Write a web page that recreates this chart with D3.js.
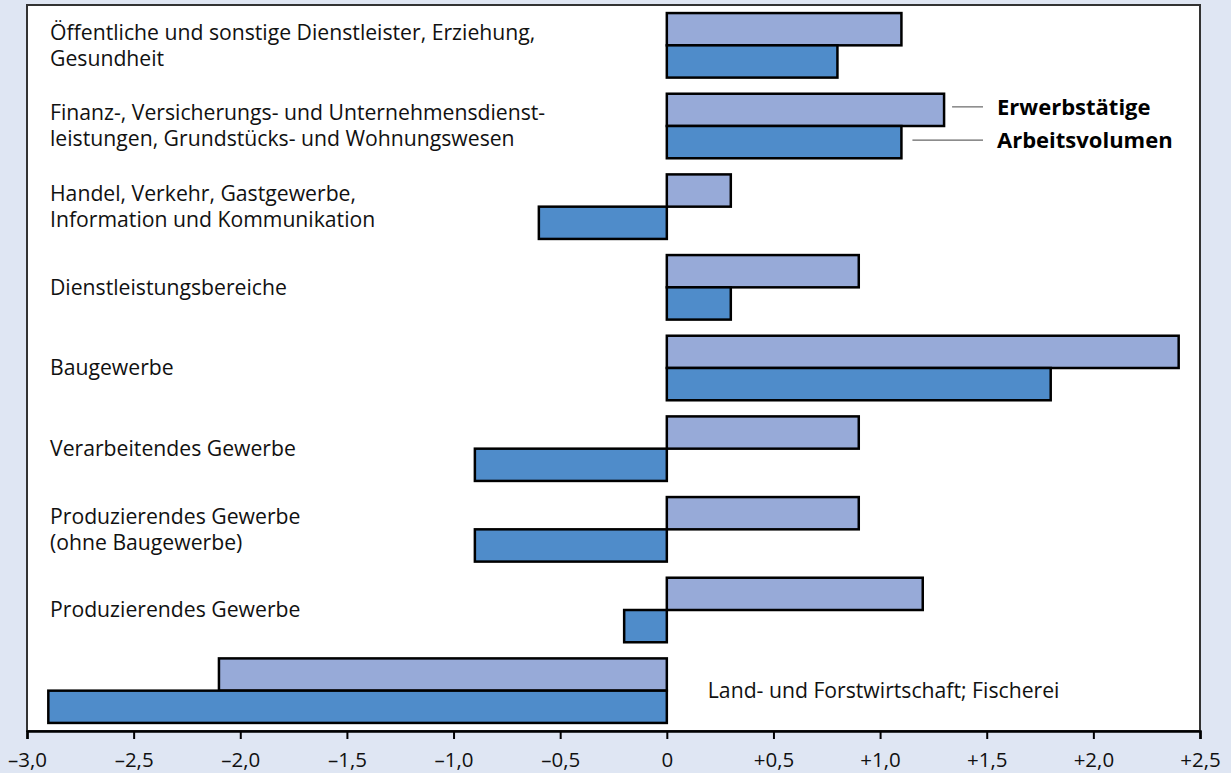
<!DOCTYPE html>
<html>
<head>
<meta charset="utf-8">
<script src="https://cdn.jsdelivr.net/npm/d3@7"></script>
<style>
  body { margin: 0; background: #dfe6f3; }
  svg { display: block; font-family: "Open Sans", sans-serif; }
</style>
</head>
<body>
<svg width="1231" height="773"></svg>
<script>
// categories, top to bottom (each label split into lines)
var categories = [
  ["Öffentliche und sonstige Dienstleister, Erziehung,", "Gesundheit"],
  ["Finanz-, Versicherungs- und Unternehmensdienst-", "leistungen, Grundstücks- und Wohnungswesen"],
  ["Handel, Verkehr, Gastgewerbe,", "Information und Kommunikation"],
  ["Dienstleistungsbereiche"],
  ["Baugewerbe"],
  ["Verarbeitendes Gewerbe"],
  ["Produzierendes Gewerbe", "(ohne Baugewerbe)"],
  ["Produzierendes Gewerbe"],
  ["Land- und Forstwirtschaft; Fischerei"]
];
var erwerbstaetige = [1.1, 1.3, 0.3, 0.9, 2.4, 0.9, 0.9, 1.2, -2.1];
var arbeitsvolumen = [0.8, 1.1, -0.6, 0.3, 1.8, -0.9, -0.9, -0.2, -2.9];
var seriesNames = ["Erwerbstätige", "Arbeitsvolumen"];
var tickValues = [-3, -2.5, -2, -1.5, -1, -0.5, 0, 0.5, 1, 1.5, 2, 2.5];

var svg = d3.select("svg"),
  plotLeft = 27, plotRight = 1200, plotTop = 5, plotBottom = 731;

// white plot area
svg.append("rect")
  .attr("x", plotLeft).attr("y", plotTop)
  .attr("width", plotRight - plotLeft).attr("height", plotBottom - plotTop)
  .attr("fill", "#fff")
  .attr("stroke", "#333").attr("stroke-width", 2);

var x = d3.scaleLinear().domain([-3, 2.5]).range([plotLeft, plotRight]);
var y = d3.scaleBand()
  .domain(d3.range(categories.length))
  .range([plotTop, plotBottom])
  .paddingInner(0.2)
  .paddingOuter(0.1);
var sub = d3.scaleBand().domain([0, 1]).range([0, y.bandwidth()]);

var colors = ["#97aad8", "#4f8cca"];
var series = [erwerbstaetige, arbeitsvolumen];

// bars
series.forEach(function (vals, s) {
  svg.append("g").selectAll("rect")
    .data(vals)
    .enter().append("rect")
    .attr("x", function (d) { return x(Math.min(0, d)); })
    .attr("y", function (d, i) { return y(i) + sub(s); })
    .attr("width", function (d) { return Math.abs(x(d) - x(0)); })
    .attr("height", sub.bandwidth())
    .attr("fill", colors[s])
    .attr("stroke", "#000")
    .attr("stroke-width", 2.5);
});

// category labels
var labels = svg.append("g").attr("font-size", 21.2).attr("fill", "#111");
categories.forEach(function (lines, i) {
  var cy = y(i) + y.bandwidth() / 2;
  var last = i === categories.length - 1;
  var lx = last ? x(0) + 41 : 50;
  var t = labels.append("text");
  lines.forEach(function (ln, k) {
    t.append("tspan")
      .attr("x", lx)
      .attr("y", cy + (k - (lines.length - 1) / 2) * 26)
      .attr("dy", "0.35em")
      .text(ln);
  });
});

// legend next to the second group
var legendY = [y(1) + sub(0) + sub.bandwidth() / 2 - 3, y(1) + sub(1) + sub.bandwidth() / 2 - 2];
var legendStart = [x(erwerbstaetige[1]) + 8, x(arbeitsvolumen[1]) + 11];
seriesNames.forEach(function (name, s) {
  svg.append("line")
    .attr("x1", legendStart[s]).attr("x2", 983)
    .attr("y1", legendY[s]).attr("y2", legendY[s])
    .attr("stroke", "#666").attr("stroke-width", 1.2);
  svg.append("text")
    .attr("x", 997).attr("y", legendY[s]).attr("dy", "0.35em")
    .attr("font-size", 22).attr("font-weight", "bold").attr("fill", "#000")
    .text(name);
});

// x axis
var fmt = function (d) {
  if (d === 0) return "0";
  var s = Math.abs(d).toFixed(1).replace(".", ",");
  return (d < 0 ? "\u2013" : "+") + s;
};
var axis = svg.append("g")
  .attr("transform", "translate(0," + plotBottom + ")")
  .call(d3.axisBottom(x).tickValues(tickValues).tickFormat(fmt).tickSize(8));
axis.select(".domain").attr("stroke", "#000").attr("stroke-width", 2.5);
axis.selectAll(".tick line").attr("stroke", "#000").attr("stroke-width", 2);
axis.selectAll(".tick text")
  .attr("font-family", "Open Sans, sans-serif")
  .attr("font-size", 20.5).attr("fill", "#111")
  .attr("y", 36).attr("dy", 0);
</script>
</body>
</html>
